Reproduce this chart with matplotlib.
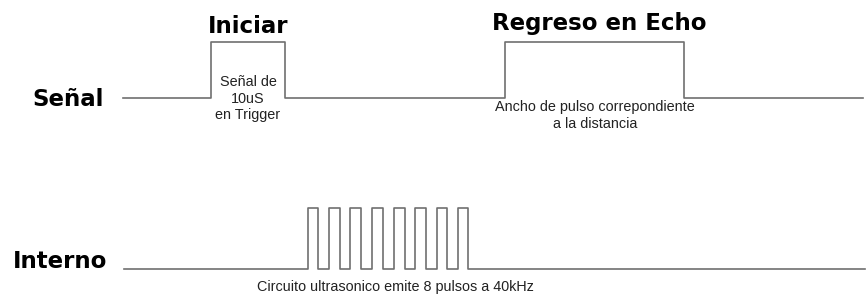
import numpy as np
import matplotlib.pyplot as plt

plt.rcParams['font.family'] = ['Liberation Sans', 'DejaVu Sans']

# tiempos de transicion (px) y niveles logicos de cada canal
senal_t = [123, 211, 285, 505, 684, 863]
senal_lvl = [0, 1, 0, 1, 0]

interno_t = [124, 307.7, 318.3, 328.7, 340, 350.3, 361, 372, 383, 393.8, 404.7,
             415, 426, 436.7, 447.3, 457.7, 468.3, 865]
interno_lvl = [0, 1, 0, 1, 0, 1, 0, 1, 0, 1, 0, 1, 0, 1, 0, 1, 0]

# base y altura de cada canal
senal_base, senal_alto = 98, 56
interno_base, interno_alto = 268.5, 61


def onda(t, lvl, base, alto):
    t = np.asarray(t, dtype=float)
    lvl = np.asarray(lvl, dtype=float)
    x = np.repeat(t, 2)[1:-1]
    y = base - np.repeat(lvl, 2) * alto
    return x, y


fig = plt.figure(figsize=(8.67, 2.94), dpi=100)
ax = fig.add_axes([0, 0, 1, 1])
ax.set_xlim(0, 867)
ax.set_ylim(294, 0)
ax.axis('off')

color = '#707070'
x, y = onda(senal_t, senal_lvl, senal_base, senal_alto)
ax.plot(x, y, color=color, lw=1.2)
x, y = onda(interno_t, interno_lvl, interno_base, interno_alto)
ax.plot(x, y, color=color, lw=1.2)

big = dict(fontsize=16.5, fontweight='bold', color='black', va='baseline',
           family='DejaVu Sans')
ax.text(32, 106, 'Señal', ha='left', **big)
ax.text(13, 268.5, 'Interno', ha='left', **big)
ax.text(248.5, 33.3, 'Iniciar', ha='center', **big)
ax.text(599.5, 30, 'Regreso en Echo', ha='center', **big)

small = dict(fontsize=10.4, color='#222222', ha='center', va='center')
ax.text(248, 82.5, 'Señal de', **small)
ax.text(248, 99, '10uS', **small)
ax.text(248, 114.5, 'en Trigger', **small)
ax.text(595, 107.5, 'Ancho de pulso correpondiente', **small)
ax.text(595, 123.5, 'a la distancia', **small)
ax.text(395, 286.5, 'Circuito ultrasonico emite 8 pulsos a 40kHz', **small)

fig.savefig('out.png', dpi=100)
